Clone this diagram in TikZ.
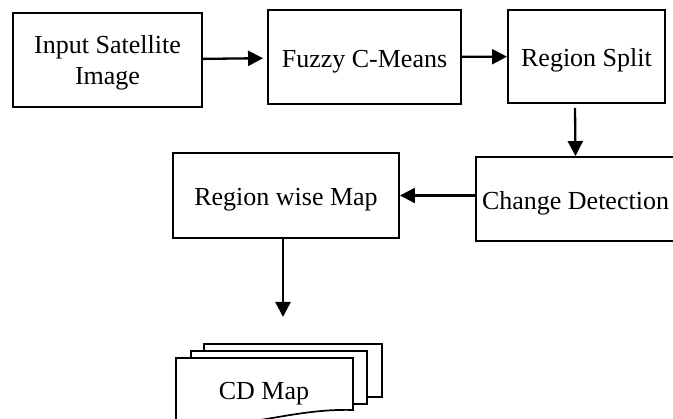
\documentclass[tikz,border=0pt]{standalone}
\usepackage{fontspec}
\setmainfont{Liberation Serif}
\usetikzlibrary{arrows.meta}
\begin{document}
\begin{tikzpicture}[x=1pt,y=-1pt,
  blk/.style={draw,line width=1.9pt,inner sep=0pt,align=center,text depth=0pt,
              font=\fontsize{26}{31}\selectfont},
  oneline/.style={blk,text height=20.5pt},
  arr/.style={line width=2.3pt,-{Triangle[length=15pt,width=15pt]}},
  page/.style={draw,line width=1.7pt,fill=white}]
\clip (0,0) rectangle (673,419);
% process blocks
\node[blk,minimum width=189pt,minimum height=94pt] (b1) at (107.5,60) {Input Satellite\\Image};
\node[oneline,minimum width=193pt,minimum height=94pt] (b2) at (364.5,57) {Fuzzy C-Means};
\node[oneline,minimum width=157pt,minimum height=93pt] (b3) at (586.5,56.5) {Region Split};
\node[oneline,minimum width=199pt,minimum height=84pt] (b4) at (575.5,199) {Change Detection};
\node[oneline,minimum width=226pt,minimum height=85pt] (b5) at (286,195.5) {Region wise Map};
% stacked output documents
\draw[page] (204,344) rectangle (382,397);
\draw[page] (191,351) rectangle (367,404);
\draw[page] (176,358) -- (353,358) -- (353,410)
  .. controls (290,408) and (240,432) .. (176,424) -- cycle;
\node[font=\fontsize{26}{30}\selectfont,anchor=base,inner sep=0pt] (cd) at (264,400) {CD Map};
% connectors
\coordinate (tip) at (283,317);
\draw[arr,shorten >=4pt] (b1) -- (b2);
\draw[arr] (b2) -- (b3);
\draw[arr] ([shift={(-11.5pt,-4pt)}]b3.south) -- (b4.north);
\draw[arr] (b4.west |- b5.east) -- (b5.east);
\draw[arr] ([xshift=-3pt]b5.south) -- (tip);
\end{tikzpicture}
\end{document}
